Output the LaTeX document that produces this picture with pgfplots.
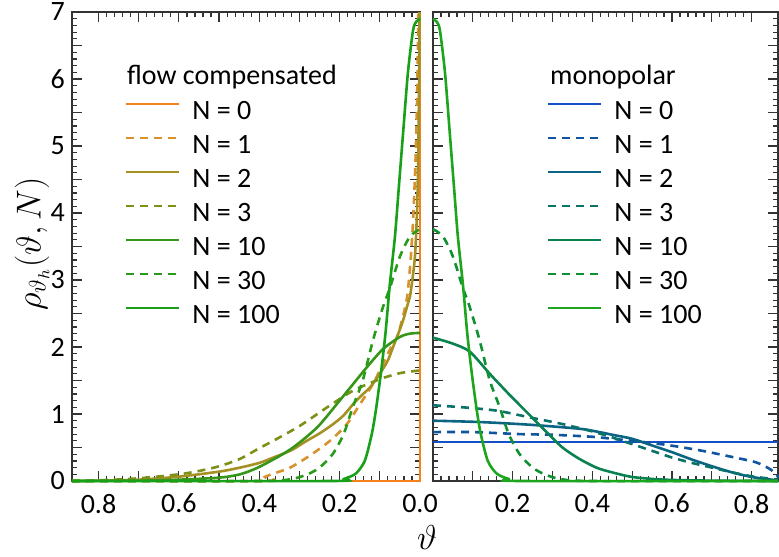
\documentclass[border=0pt]{standalone}
\usepackage{fontspec}
\setmainfont{Carlito}
\usepackage{pgfplots}
\pgfplotsset{compat=1.18}
\usepackage{amsmath}

\definecolor{fc0}{RGB}{245,128,30}
\definecolor{fc1}{RGB}{215,145,45}
\definecolor{fc2}{RGB}{165,145,35}
\definecolor{fc3}{RGB}{125,145,25}
\definecolor{fc10}{RGB}{55,150,25}
\definecolor{fc30}{RGB}{40,155,25}
\definecolor{fc100}{RGB}{25,160,25}
\definecolor{mp0}{RGB}{20,80,200}
\definecolor{mp1}{RGB}{15,85,160}
\definecolor{mp2}{RGB}{10,100,130}
\definecolor{mp3}{RGB}{10,115,105}
\definecolor{mp10}{RGB}{10,130,80}
\definecolor{mp30}{RGB}{15,145,50}
\definecolor{mp100}{RGB}{30,165,30}

\pgfplotsset{
  panel/.style={
    scale only axis, height=234.5pt,
    ymin=0, ymax=7, xmin=0, xmax=0.866,
    xtick={0,0.1,0.2,0.3,0.4,0.5,0.6,0.7,0.8},
    minor x tick num=4,
    ytick={0,0.5,1,1.5,2,2.5,3,3.5,4,4.5,5,5.5,6,6.5,7},
    minor y tick num=4,
    major tick length=5pt, minor tick length=2.5pt,
    tick style={black!80, line width=0.6pt},
    axis line style={black!80, line width=0.8pt},
    tick label style={font=\fontsize{14}{16}\selectfont},
    /pgf/number format/assume math mode=true,
    xticklabel style={yshift=-3pt},
    clip=false,
    legend cell align=left,
    legend style={draw=none, fill=none, inner sep=0pt, outer sep=0pt,
      font=\fontsize{14}{16}\selectfont,
      nodes={inner sep=0pt, text height=9.5pt, text depth=2pt},
      row sep=5.5pt, column sep=6pt, anchor=north west},
    legend image code/.code={\draw[#1] (0pt,3.8pt) -- (26.5pt,3.8pt);},
    every axis plot/.append style={line width=1.3pt},
  },
  dsh/.style={dash pattern=on 4pt off 3pt},
  sm/.style={smooth, tension=0.45},
}

\begin{document}
\begin{tikzpicture}
% flow compensated (left, reversed)
\begin{axis}[panel, width=174pt, x dir=reverse,
  xticklabels={0.0,,0.2,,0.4,,0.6,,0.8},
  yticklabels={0,,1,,2,,3,,4,,5,,6,,7},
  legend style={at={(axis description cs:0.152,0.812)}}]
  \addplot[fc0] coordinates {(0.866,0)(0,0)(0,7)};
  \addplot[fc1,dsh,sm] coordinates {(0.866,0)(0.39,0)(0.386,0.06)(0.36,0.12)(0.323,0.2)(0.274,0.38)(0.224,0.6)(0.182,0.85)(0.149,1.15)(0.117,1.45)(0.092,1.75)(0.072,2.0)(0.057,2.15)(0.044,2.42)(0.032,2.75)(0.024,3.25)(0.018,3.8)(0.012,4.64)(0.0075,5.6)(0.005,6.6)(0.0042,7.0)};
  \addplot[fc2,sm] coordinates {(0.866,0)(0.8,0.005)(0.7,0.02)(0.6,0.065)(0.5,0.14)(0.448,0.2)(0.4,0.27)(0.365,0.35)(0.32,0.46)(0.282,0.6)(0.25,0.71)(0.216,0.85)(0.19,0.98)(0.166,1.15)(0.145,1.28)(0.124,1.4)(0.1,1.6)(0.08,1.8)(0.067,2.0)(0.054,2.2)(0.042,2.4)(0.03,2.65)(0.025,2.75)(0.018,3.05)(0.012,3.4)(0.007,4.1)(0.004,5.0)(0.002,6.2)(0.0012,7)};
  \addplot[fc3,dsh,sm] coordinates {(0.866,0)(0.8,0.01)(0.7,0.04)(0.6,0.1)(0.55,0.15)(0.5,0.22)(0.448,0.33)(0.4,0.49)(0.365,0.6)(0.3,0.82)(0.231,1.1)(0.166,1.35)(0.1,1.52)(0.057,1.6)(0.03,1.63)(0,1.65)};
  \addplot[fc10,sm] coordinates {(0.866,0)(0.7,0.005)(0.6,0.02)(0.5,0.05)(0.448,0.1)(0.4,0.21)(0.323,0.47)(0.256,0.8)(0.2,1.2)(0.166,1.45)(0.132,1.7)(0.092,1.97)(0.05,2.15)(0.025,2.2)(0,2.21)};
  \addplot[fc30,dsh,sm] coordinates {(0.866,0)(0.4,0)(0.32,0.03)(0.28,0.1)(0.25,0.2)(0.2175,0.4)(0.19,0.7)(0.1675,1.1)(0.1425,1.5)(0.117,2.1)(0.092,2.6)(0.075,2.88)(0.05,3.35)(0.025,3.65)(0,3.76)};
  \addplot[fc100,sm] coordinates {(0.866,0)(0.22,0)(0.19,0.03)(0.16,0.11)(0.1375,0.3)(0.12,0.7)(0.11,1.05)(0.0975,1.6)(0.086,2.2)(0.075,2.94)(0.0625,3.64)(0.0525,4.4)(0.042,5.2)(0.03,6.1)(0.0175,6.72)(0.01,6.85)(0,6.9)};
  \legend{N = 0,N = 1,N = 2,N = 3,N = 10,N = 30,N = 100}
  \node[anchor=base west,font=\fontsize{14}{16}\selectfont] at (axis description cs:0.138,0.846) {flow compensated};
\end{axis}
% monopolar (right)
\begin{axis}[panel, width=172.5pt, at={(180.5pt,0pt)},
  xticklabels={,,0.2,,0.4,,0.6,,0.8},
  yticklabels={},
  legend style={at={(axis description cs:0.33,0.812)}}]
  \addplot[mp0] coordinates {(0,0.585)(0.866,0.585)};
  \addplot[mp1,dsh,sm] coordinates {(0,0.73)(0.1,0.73)(0.2175,0.7)(0.3,0.69)(0.4,0.66)(0.45,0.63)(0.5,0.6)(0.585,0.54)(0.6675,0.46)(0.75,0.36)(0.81,0.28)(0.8425,0.19)(0.8625,0.1)(0.866,0.05)};
  \addplot[mp2,sm] coordinates {(0,0.9)(0.1175,0.88)(0.2425,0.84)(0.3675,0.78)(0.4175,0.73)(0.45,0.69)(0.5,0.63)(0.55,0.53)(0.6,0.43)(0.65,0.32)(0.7,0.22)(0.75,0.13)(0.8,0.06)(0.85,0.02)(0.866,0.01)};
  \addplot[mp3,dsh,sm] coordinates {(0,1.13)(0.075,1.1)(0.16,1.05)(0.2425,0.95)(0.325,0.85)(0.4,0.74)(0.45,0.65)(0.5,0.55)(0.55,0.45)(0.6,0.35)(0.65,0.27)(0.7,0.2)(0.75,0.13)(0.8,0.07)(0.866,0.02)};
  \addplot[mp10,sm] coordinates {(0,2.14)(0.05,2.05)(0.0925,1.93)(0.1425,1.6)(0.19,1.3)(0.24,1.0)(0.285,0.73)(0.325,0.5)(0.3675,0.33)(0.41,0.2)(0.4425,0.14)(0.5,0.06)(0.58,0.02)(0.7,0.005)(0.866,0)};
  \addplot[mp30,dsh,sm] coordinates {(0,3.76)(0.025,3.65)(0.05,3.35)(0.075,2.88)(0.092,2.6)(0.117,2.1)(0.1425,1.5)(0.1675,1.1)(0.19,0.7)(0.2175,0.4)(0.25,0.2)(0.28,0.1)(0.32,0.03)(0.4,0)(0.866,0)};
  \addplot[mp100,sm] coordinates {(0,6.9)(0.01,6.85)(0.0175,6.72)(0.03,6.1)(0.042,5.2)(0.0525,4.4)(0.0625,3.64)(0.075,2.94)(0.086,2.2)(0.0975,1.6)(0.11,1.05)(0.12,0.7)(0.1375,0.3)(0.16,0.11)(0.19,0.03)(0.22,0)(0.866,0)};
  \legend{N = 0,N = 1,N = 2,N = 3,N = 10,N = 30,N = 100}
  \node[anchor=base west,font=\fontsize{14}{16}\selectfont] at (axis description cs:0.319,0.846) {monopolar};
\end{axis}
\node[rotate=90] at (-20pt,118.5pt) {\fontsize{17}{20}\selectfont$\rho_{\vartheta_h}(\vartheta,N)$};
\node at (177.5pt,-28pt) {\fontsize{17}{20}\selectfont$\vartheta$};
\pgfresetboundingbox
\path[use as bounding box] (-36pt,-37.5pt) rectangle (353.5pt,240.5pt);
\end{tikzpicture}
\end{document}
